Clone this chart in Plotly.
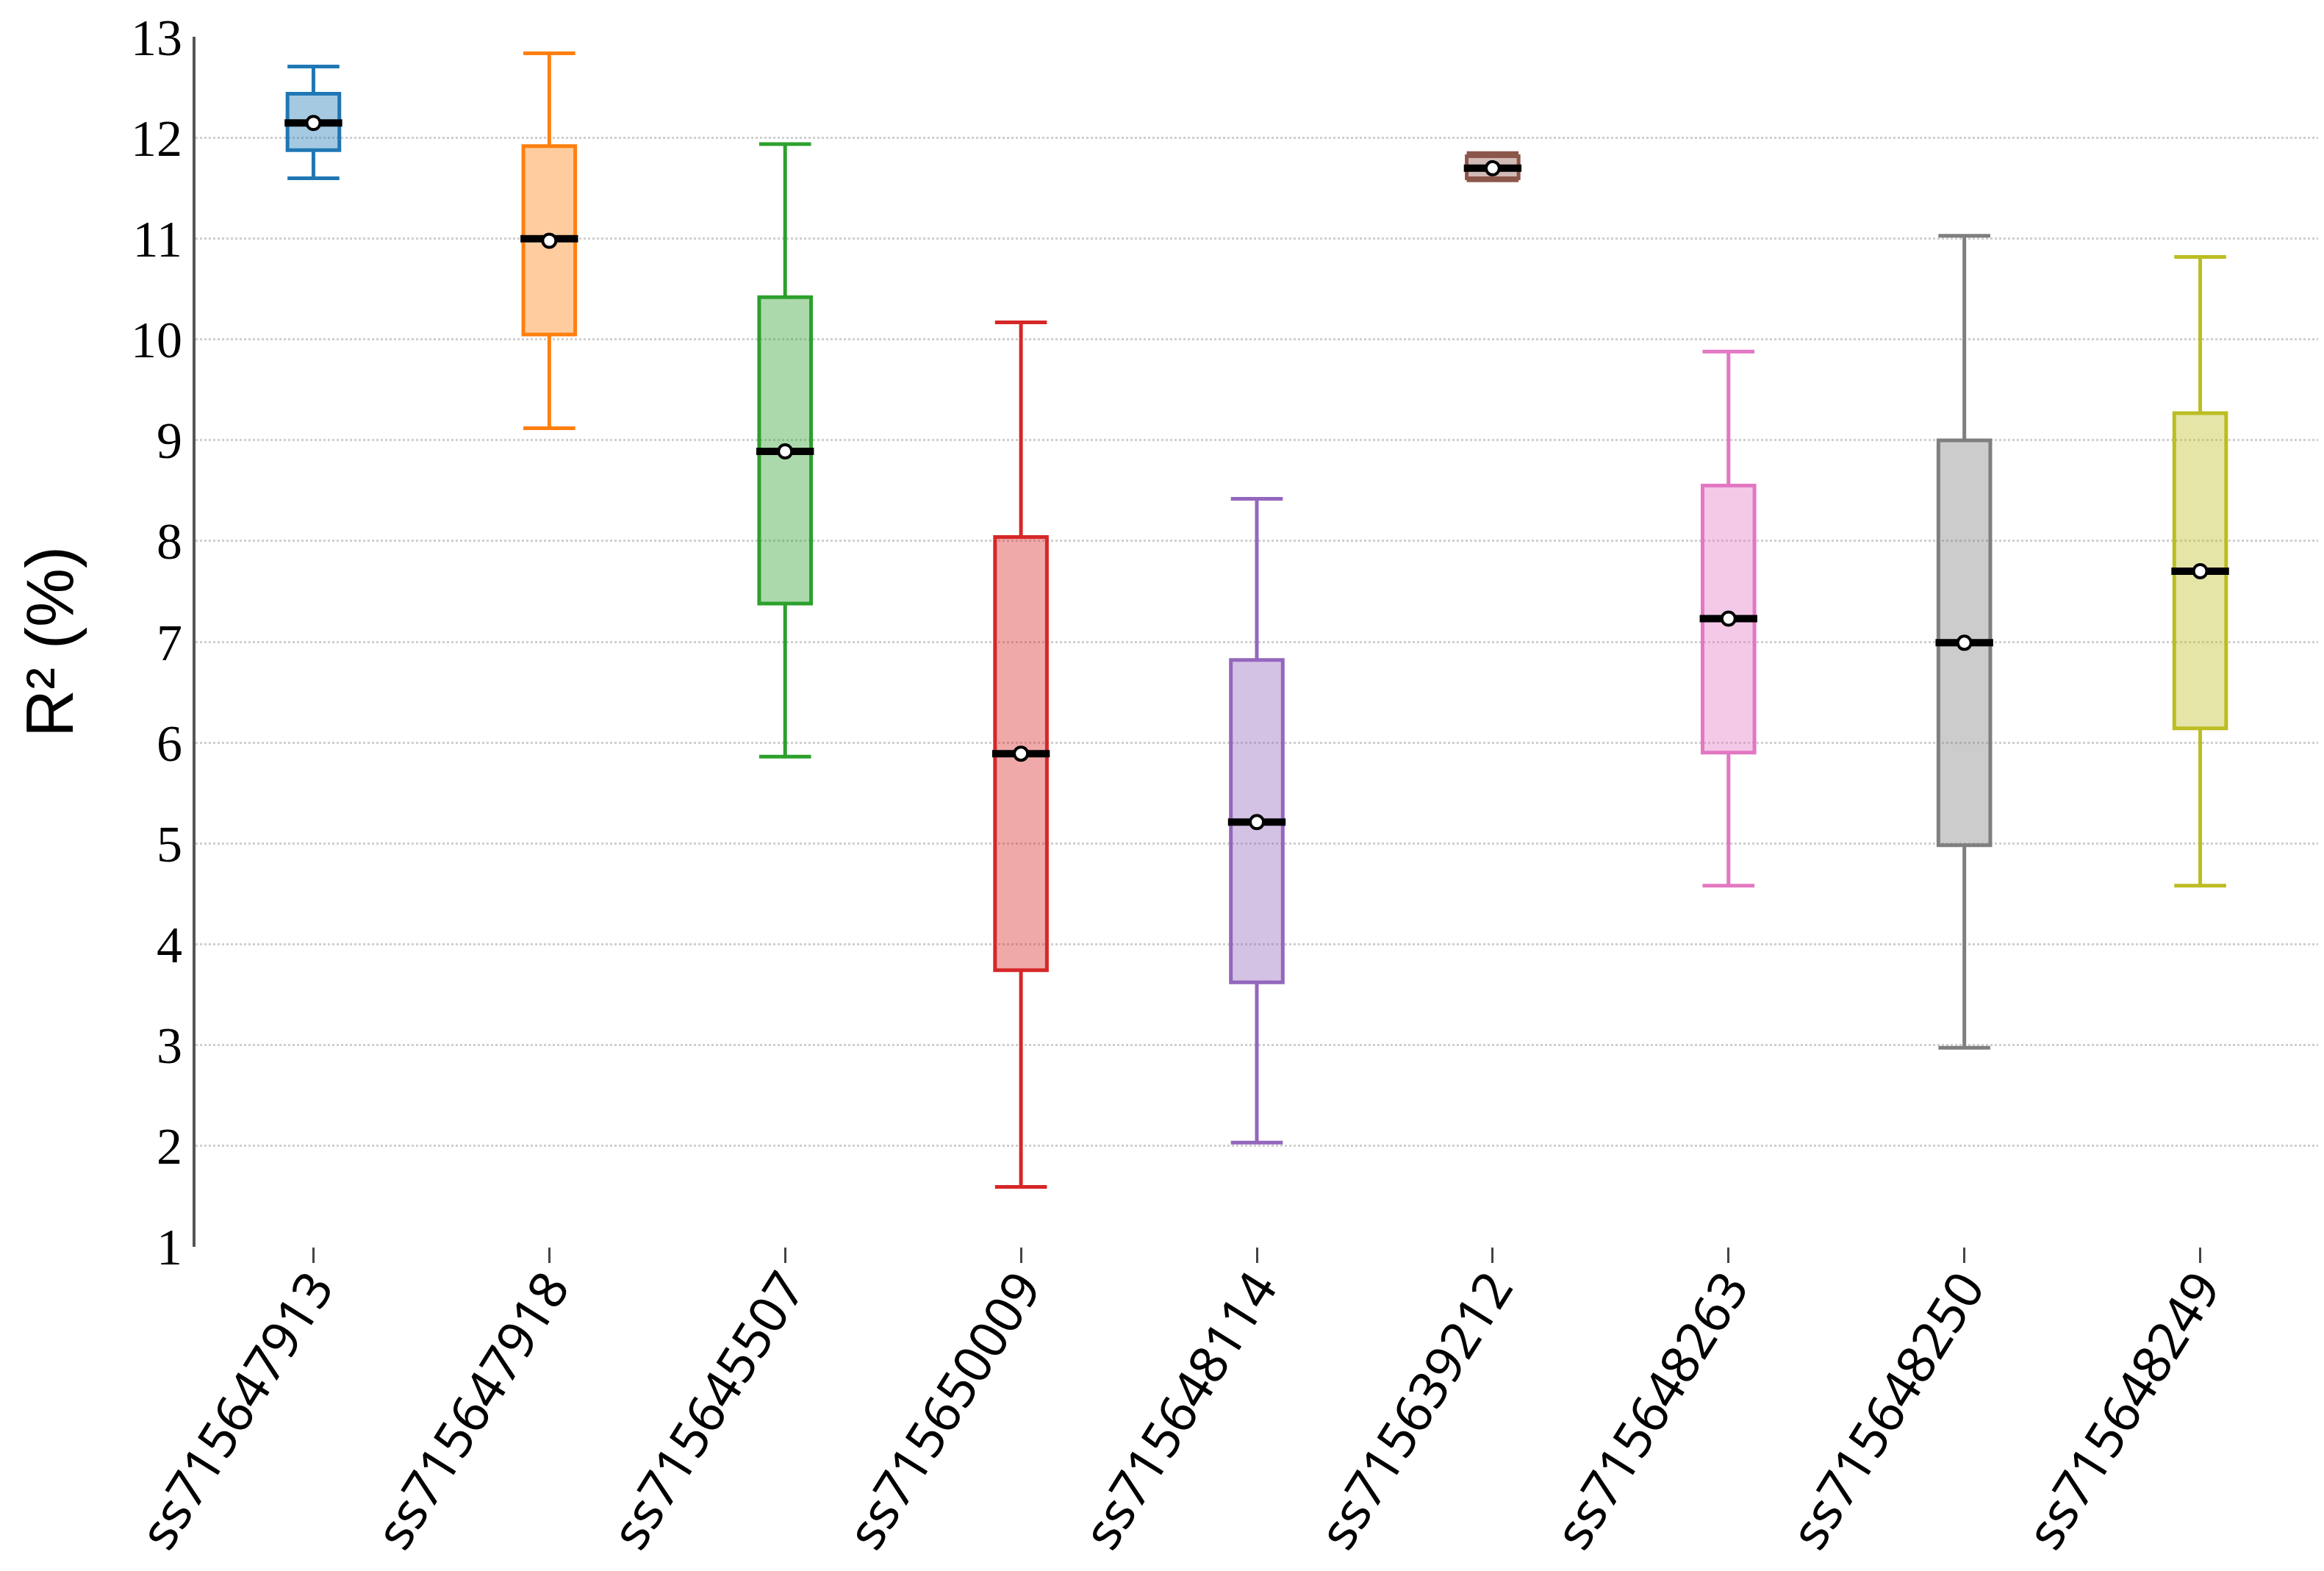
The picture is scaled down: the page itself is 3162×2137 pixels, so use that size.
import plotly.graph_objects as go

# SNP markers and their R² (%) summary stats
snps = ["ss715647913", "ss715647918", "ss715645507", "ss715650009", "ss715648114",
        "ss715639212", "ss715648263", "ss715648250", "ss715648249"]
lower = [11.60, 9.12, 5.86, 1.59, 2.03, 11.58, 4.58, 2.97, 4.58]
q1 = [11.88, 10.05, 7.38, 3.74, 3.62, 11.60, 5.90, 4.98, 6.14]
median = [12.15, 11.00, 8.89, 5.89, 5.21, 11.70, 7.23, 6.99, 7.70]
q3 = [12.44, 11.92, 10.42, 8.04, 6.82, 11.82, 8.55, 9.00, 9.27]
upper = [12.71, 12.84, 11.94, 10.17, 8.42, 11.85, 9.88, 11.03, 10.82]
mean = [12.15, 10.98, 8.89, 5.89, 5.21, 11.70, 7.23, 6.99, 7.70]

colors = ["#1f77b4", "#ff7f0e", "#2ca02c", "#d62728", "#9467bd",
          "#8c564b", "#e377c2", "#7f7f7f", "#bcbd22"]


def hex_rgba(h, a):
    h = h.lstrip("#")
    return "rgba(%d,%d,%d,%s)" % (int(h[0:2], 16), int(h[2:4], 16), int(h[4:6], 16), a)


fig = go.Figure()

for i, name in enumerate(snps):
    fig.add_trace(go.Box(
        x=[name],
        q1=[q1[i]], median=[median[i]], q3=[q3[i]],
        lowerfence=[lower[i]], upperfence=[upper[i]],
        width=0.22,
        whiskerwidth=1,
        line=dict(color=colors[i], width=5),
        fillcolor=hex_rgba(colors[i], 0.4),
        hoverinfo="skip",
    ))

# black median bars
fig.add_trace(go.Scatter(
    x=snps, y=median, mode="markers",
    marker=dict(symbol="line-ew", size=56, line=dict(color="black", width=10)),
    hoverinfo="skip",
))

# mean markers
fig.add_trace(go.Scatter(
    x=snps, y=mean, mode="markers",
    marker=dict(symbol="circle", size=18, color="white", line=dict(color="black", width=4)),
    hoverinfo="skip",
))

fig.update_layout(
    width=3162, height=2137,
    paper_bgcolor="white", plot_bgcolor="white",
    showlegend=False,
    margin=dict(l=258, r=16, t=42, b=449, autoexpand=False),
    xaxis=dict(
        type="category",
        range=[-0.5, 8.5],
        automargin=False,
        showgrid=False, showline=False, zeroline=False,
        ticks="outside", ticklen=21, tickwidth=3, tickcolor="#444",
        tickangle=-58,
        ticklabelstandoff=-35,
        tickfont=dict(family="Noto Sans", size=70, color="black"),
    ),
    yaxis=dict(
        range=[0.995, 13.005], dtick=1, tick0=1,
        automargin=False,
        showline=True, linecolor="#555", linewidth=4,
        showgrid=True, gridcolor="#cfcfcf", gridwidth=3, griddash="dot",
        zeroline=False, ticks="",
        ticklabeloverflow="allow",
        tickfont=dict(family="Liberation Serif", size=70, color="black"),
        title=dict(text="R² (%)", font=dict(family="Liberation Sans", size=90, color="black"),
                   standoff=50),
    ),
)

fig.write_html("out.html")
